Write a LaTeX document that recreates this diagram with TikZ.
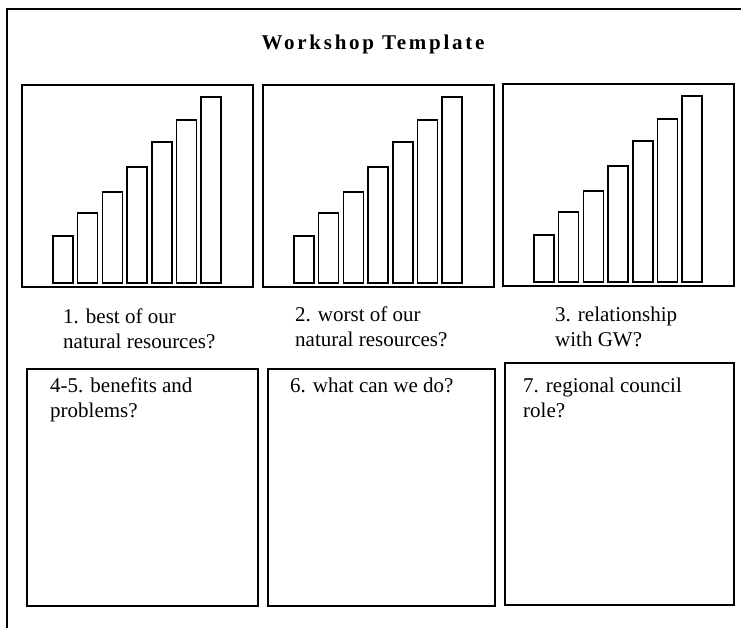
\documentclass[tikz,border=0pt]{standalone}
\usepackage{fontspec}
\setmainfont{Liberation Serif}
\usepackage{tikz}
\usetikzlibrary{positioning}

\tikzset{
  panel/.style={draw=black,line width=1.5pt},
  bar/.style={draw=black,line width=1.5pt},
  label/.style={anchor=base west,align=left,inner sep=0pt,
    font=\fontsize{21}{25}\selectfont},
}

\begin{document}
\begin{tikzpicture}[x=1pt,y=-1pt]
  \useasboundingbox (0,0) rectangle (741,628);
  % outer frame, cut off at the right and bottom
  \draw[line width=1.8pt] (7,628) -- (7,9) -- (741,9);
  \node[anchor=base,inner sep=0pt,
    font=\fontsize{21}{25}\selectfont\bfseries\addfontfeature{LetterSpace=13}]
    (title) at (373,50) {Workshop Template};
  % the three bar charts
  \foreach \cx/\cy in {22/85,263/85,503/84}{
    \begin{scope}[shift={(\cx,\cy)}]
      \draw[panel] (0,0) rectangle (231,202);
      \foreach \h [count=\i from 0] in {47,70,91,116,141,163,186}
        \draw[bar] ({31+24.7*\i},198) rectangle ++(20,-\h);
    \end{scope}
  }
  % base of a two-line label is its second line
  \node[label] (best) at (63,348) {1. best of our\\natural resources?};
  \node[label] (worst) at (295,346) {2. worst of our\\natural resources?};
  \node[label] (gw) at (555,346) {3. relationship\\with GW?};
  % answer boxes
  \draw[panel] (27,369) rectangle (258,606);
  \draw[panel] (268,369) rectangle (495,606);
  \draw[panel] (505,363) rectangle (734,605);
  \node[label] (benefits) at (50,417) {4-5. benefits and\\problems?};
  \node[label] (todo) at (290,392) {6. what can we do?};
  \node[label] (council) at (523,417) {7. regional council\\role?};
\end{tikzpicture}
\end{document}
